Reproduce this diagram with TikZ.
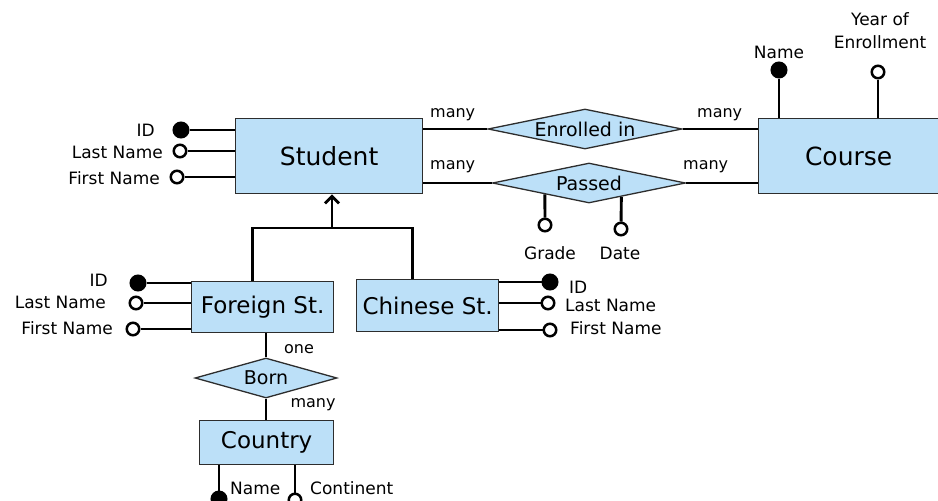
\documentclass[tikz,border=0pt]{standalone}
\usepackage{fontspec}
\setmainfont{DejaVu Sans}
\usetikzlibrary{shapes.geometric,arrows.meta,calc}
\definecolor{entfill}{RGB}{188,224,248}
\definecolor{boxedge}{RGB}{45,45,45}
\begin{document}
\begin{tikzpicture}[x=1pt,y=-1pt,
  entity/.style={draw=boxedge,fill=entfill,line width=1.3pt,inner sep=0,anchor=north west,
                 font=\fontsize{23}{27}\selectfont},
  bigentity/.style={entity,font=\fontsize{25}{29}\selectfont},
  rel/.style={diamond,draw=boxedge,fill=entfill,line width=1.3pt,inner sep=0,
              label={[font=\fontsize{19}{23}\selectfont]center:#1}},
  conn/.style={line width=2.9pt,black},
  keyattr/.style={circle,fill=black,draw=black,line width=1pt,inner sep=0,minimum size=16pt},
  plainattr/.style={circle,fill=white,draw=black,line width=2.5pt,inner sep=0,minimum size=12.5pt},
  attrtext/.style={inner sep=0,font=\fontsize{17}{21}\selectfont},
  cardtext/.style={inner sep=0,font=\fontsize{16}{20}\selectfont},
]
\useasboundingbox (0,0) rectangle (938,501);

% ---------------- entities ----------------
\node[bigentity,minimum width=187,minimum height=75] (student) at (235,118) {Student};
\node[bigentity,minimum width=180,minimum height=75] (course)  at (758,118) {Course};
\node[entity,minimum width=142,minimum height=51] (foreign) at (191,281) {Foreign St.};
\node[entity,minimum width=142,minimum height=52] (chinese) at (356,279) {Chinese St.};
\node[entity,minimum width=134,minimum height=44] (country) at (199,420) {Country};

% ---------------- relationships ----------------
\node[rel=Enrolled in,minimum width=194,minimum height=40] (enrolled) at (585,129) {};
\node[rel=Passed,minimum width=193,minimum height=40] (passed) at (589,183) {};
\node[rel=Born,minimum width=142,minimum height=40] (born) at (266,378) {};

% ---------------- relationship links ----------------
\draw[conn] (enrolled.west) -- (enrolled.west -| student.east);
\draw[conn] (enrolled.east) -- (enrolled.east -| course.west);
\draw[conn] (passed.west) -- (passed.west -| student.east);
\draw[conn] (passed.east) -- (passed.east -| course.west);
\draw[conn] (born.north |- foreign.south) -- (born.north);
\draw[conn] (born.south) -- (country.north -| born.south);

\node[cardtext,anchor=west] (c-en-l) at (430,115) {many};
\node[cardtext,anchor=west] (c-en-r) at (697,115) {many};
\node[cardtext,anchor=west] (c-pa-l) at (430,167) {many};
\node[cardtext,anchor=west] (c-pa-r) at (683,167) {many};
\node[cardtext] (c-bo-t) at (299,349) {one};
\node[cardtext] (c-bo-b) at (313,405) {many};

% ---------------- generalisation ----------------
\coordinate (gen) at (332,228);
\draw[conn] ([xshift=-10pt]foreign.north) |- (gen) -| ([xshift=-15pt]chinese.north);
\draw[conn,-{Straight Barb[length=7pt,width=14pt]}] (gen) -- (gen |- student.south);

% ---------------- Student attributes ----------------
\node[keyattr]   (s-id) at (181,130) {};
\node[plainattr] (s-ln) at (180,151) {};
\node[plainattr] (s-fn) at (177,177) {};
\draw[conn] (s-id) -- (s-id -| student.west);
\draw[conn] (s-ln) -- (s-ln -| student.west);
\draw[conn] (s-fn) -- (s-fn -| student.west);
\node[attrtext,anchor=east] (t-s-id) at (155,130) {ID};
\node[attrtext,anchor=east] (t-s-ln) at (163,152) {Last Name};
\node[attrtext,anchor=east] (t-s-fn) at (160,178) {First Name};

% ---------------- Course attributes ----------------
\node[keyattr]   (c-nm) at (779,70) {};
\node[plainattr] (c-yr) at (878,72) {};
\draw[conn] (c-nm) -- (c-nm |- course.north);
\draw[conn] (c-yr) -- (c-yr |- course.north);
\node[attrtext] (t-c-nm) at (779,52) {Name};
\node[attrtext,align=center,font=\fontsize{17}{23}\selectfont] (t-c-yr) at (880,31) {Year of\\Enrollment};

% ---------------- Passed attributes ----------------
\coordinate (p-g) at ($(passed.west)!0.546!(passed.south)$);
\coordinate (p-d) at ($(passed.south)!0.333!(passed.east)$);
\node[plainattr] (p-gr) at (545,225) {};
\node[plainattr] (p-dt) at (621,229) {};
\draw[conn] (p-gr) -- (p-g);
\draw[conn] (p-dt) -- (p-d);
\node[attrtext] (t-p-gr) at (550,253) {Grade};
\node[attrtext] (t-p-dt) at (620,253) {Date};

% ---------------- Foreign St. attributes ----------------
\node[keyattr]   (f-id) at (138,283) {};
\node[plainattr] (f-ln) at (136,303) {};
\node[plainattr] (f-fn) at (133,329) {};
\draw[conn] (f-id) -- (f-id -| foreign.west);
\draw[conn] (f-ln) -- (f-ln -| foreign.west);
\draw[conn] (f-fn) -- (f-fn -| foreign.west);
\node[attrtext,anchor=east] (t-f-id) at (108,280) {ID};
\node[attrtext,anchor=east] (t-f-ln) at (106,302) {Last Name};
\node[attrtext,anchor=east] (t-f-fn) at (113,328) {First Name};

% ---------------- Chinese St. attributes ----------------
\node[keyattr]   (h-id) at (550,282) {};
\node[plainattr] (h-ln) at (548,303) {};
\node[plainattr] (h-fn) at (550,330) {};
\draw[conn] (h-id) -- (h-id -| chinese.east);
\draw[conn] (h-ln) -- (h-ln -| chinese.east);
\draw[conn] (h-fn) -- (h-fn -| chinese.east);
\node[attrtext,anchor=west] (t-h-id) at (569,287) {ID};
\node[attrtext,anchor=west] (t-h-ln) at (565,305) {Last Name};
\node[attrtext,anchor=west] (t-h-fn) at (570,328) {First Name};

% ---------------- Country attributes ----------------
\node[keyattr]   (k-nm) at (219,499) {};
\node[plainattr] (k-ct) at (295,500) {};
\draw[conn] (k-nm) -- (k-nm |- country.south);
\draw[conn] (k-ct) -- (k-ct |- country.south);
\node[attrtext,anchor=west] (t-k-nm) at (230,488) {Name};
\node[attrtext,anchor=west] (t-k-ct) at (310,488) {Continent};
\end{tikzpicture}
\end{document}
